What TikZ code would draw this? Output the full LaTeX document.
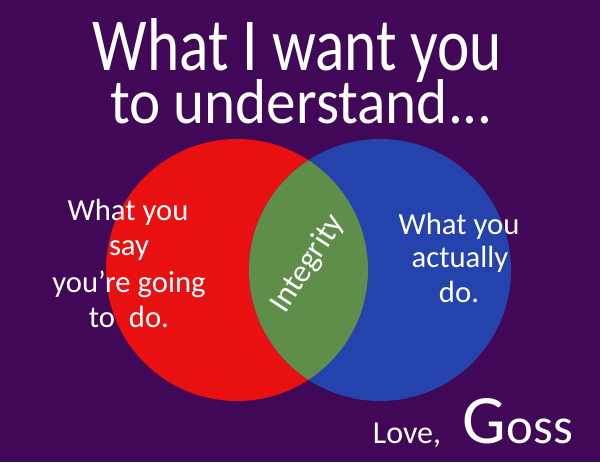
\documentclass[tikz,border=0pt]{standalone}
\usepackage{fontspec}
\setmainfont{Carlito}
\usepackage{graphicx}
\definecolor{bgpurple}{HTML}{420858}
\definecolor{vennred}{HTML}{E81010}
\definecolor{vennblue}{HTML}{2443AC}
\definecolor{venngreen}{HTML}{5E8E4A}
\begin{document}
\begin{tikzpicture}[x=0.75pt,y=-0.75pt,
  txt/.style={text=white,inner sep=0pt,anchor=base},
  side/.style={txt,font=\fontsize{23}{28}\selectfont}]
\fill[bgpurple] (0,0) rectangle (600,462);
\useasboundingbox (0,0) rectangle (600,462);
\fill[vennred] (237,270) circle (131);
\fill[vennblue] (380,270) circle (131);
\begin{scope}
  \clip (237,270) circle (131);
  \fill[venngreen] (380,270) circle (131);
\end{scope}
% title
\node[txt] (t1) at (297.5,70) {\resizebox{306.75pt}{39pt}{What I want you}};
\node[txt] (t2) at (301.5,123) {\resizebox{287pt}{33pt}{to understand...}};
% left text
\node[side] (l1) at (128,220) {What you};
\node[side] (l2) at (129,255) {say};
\node[side] (l3) at (129,292) {you’re going};
\node[side] (l4) at (129,327) {to\ \ do.};
% right text
\node[side] (r1) at (459,234) {What you};
\node[side] (r2) at (460,267) {actually};
\node[side] (r3) at (459,302) {do.};
% intersection
\node[text=white,inner sep=0pt,rotate=57,font=\fontsize{24}{28}\selectfont] (integ) at (308,264) {Integrity};
% signature
\node[txt,font=\fontsize{24}{28}\selectfont] (love) at (407,443) {Love,};
\node[txt,font=\fontsize{52}{56}\selectfont,anchor=base west] (gG) at (462,443) {G};
\node[txt,font=\fontsize{38}{42}\selectfont,anchor=base west] (goss) at (gG.base east) {oss};
\end{tikzpicture}
\end{document}
